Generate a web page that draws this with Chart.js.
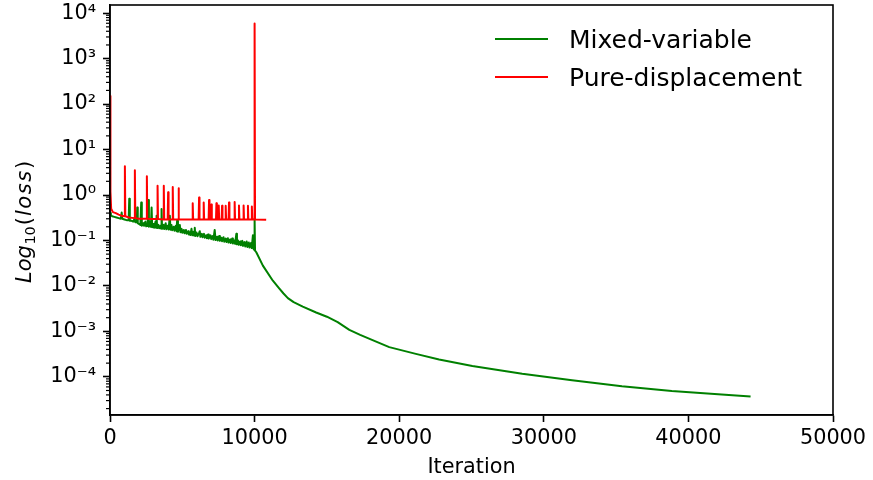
<!DOCTYPE html>
<html><head><meta charset="utf-8">
<script src="https://cdn.jsdelivr.net/npm/chart.js@4"></script>
<style>html,body{margin:0;padding:0;background:#fff}canvas{display:block}</style>
</head><body>
<canvas id="c" width="873" height="480"></canvas>
<script>
const seriesNames = ['Mixed-variable', 'Pure-displacement'];
const seriesColors = ['#008000', '#ff0000'];

const mixedIter = [0,60,150,300,450,600,750,807,850,1000,1150,1290,1331,1370,1500,1600,1700,1750,1850,1883,1920,2000,2100,2159,2200,2300,2350,2450,2500,2600,2641,2690,2780,2830,2876,2920,3000,3050,3150,3190,3221,3260,3350,3400,3500,3530,3566,3600,3700,3750,3850,3900,3980,4050,4138,4180,4250,4300,4400,4450,4550,4600,4641,4700,4780,4828,4870,4950,5000,5100,5150,5250,5300,5400,5450,5520,5560,5635,5700,5780,5820,5862,5900,5980,6050,6150,6207,6250,6350,6400,6500,6550,6650,6700,6780,6830,6950,7000,7100,7150,7241,7300,7400,7450,7550,7600,7700,7750,7850,7900,8000,8050,8150,8200,8300,8350,8450,8500,8600,8650,8738,8780,8850,8900,9000,9050,9150,9200,9300,9350,9450,9500,9600,9650,9750,9800,9883,9920,9980,10000,10030,10117,10573,11263,11700,12000,12300,12700,13331,14256,15000,15745,16552,17300,18159,19311,21152,22759,25057,28506,31954,35402,38851,42300,44300];
const mixedLoss = [0.40,0.36,0.34,0.33,0.32,0.31,0.30,0.41,0.30,0.29,0.28,0.28,0.83,0.27,0.27,0.26,0.30,0.25,0.25,0.53,0.24,0.23,0.22,0.68,0.21,0.24,0.21,0.26,0.205,0.21,0.78,0.20,0.25,0.20,0.53,0.195,0.23,0.19,0.26,0.19,0.35,0.188,0.22,0.185,0.21,0.183,0.49,0.18,0.22,0.178,0.24,0.176,0.21,0.174,0.35,0.172,0.22,0.168,0.20,0.164,0.21,0.16,0.27,0.156,0.19,0.22,0.152,0.18,0.148,0.17,0.144,0.17,0.14,0.16,0.135,0.15,0.132,0.18,0.13,0.155,0.128,0.19,0.126,0.15,0.124,0.145,0.16,0.12,0.14,0.118,0.14,0.115,0.13,0.112,0.135,0.11,0.13,0.107,0.125,0.104,0.17,0.102,0.12,0.10,0.125,0.098,0.115,0.096,0.118,0.094,0.11,0.092,0.112,0.09,0.105,0.088,0.11,0.086,0.10,0.084,0.14,0.082,0.10,0.08,0.095,0.078,0.098,0.076,0.092,0.074,0.095,0.072,0.09,0.07,0.088,0.068,0.13,0.066,0.062,0.30,0.06,0.055,0.028,0.013,0.0088,0.0068,0.0054,0.0044,0.0035,0.0026,0.0021,0.0016,0.00108,0.00084,0.00064,0.00045,0.00032,0.00024,0.000173,0.000117,0.000084,0.000062,0.000049,0.000041,0.000037];

const pureIter = [0,30,80,200,400,600,800,1000,1030,1060,1300,1690,1720,1750,2000,2520,2550,2580,3000,3260,3290,3320,3690,3720,3750,3990,4020,4050,4310,4340,4370,4710,4740,4770,5690,5720,5750,6130,6160,6190,6450,6480,6510,6820,6850,6880,6980,7010,7040,7330,7360,7390,7490,7520,7550,7720,7750,7780,7970,8000,8030,8200,8230,8260,8590,8620,8650,8890,8920,8950,9210,9240,9270,9510,9540,9570,9780,9810,9840,9970,10000,10030,10800];
const pureLoss = [150,1.2,0.5,0.42,0.40,0.37,0.35,0.34,4.3,0.34,0.32,0.31,3.5,0.31,0.30,0.30,2.6,0.30,0.295,0.295,1.6,0.295,0.29,1.6,0.29,0.29,1.15,0.29,0.29,1.5,0.29,0.29,1.4,0.29,0.29,0.66,0.29,0.29,0.88,0.29,0.29,0.68,0.29,0.29,0.78,0.29,0.29,0.62,0.29,0.29,0.66,0.29,0.29,0.59,0.29,0.29,0.58,0.29,0.29,0.58,0.29,0.29,0.68,0.29,0.29,0.70,0.29,0.29,0.59,0.29,0.29,0.59,0.29,0.29,0.58,0.29,0.29,0.56,0.29,0.29,5900,0.29,0.285];

const xTicks = [0, 10000, 20000, 30000, 40000, 50000];
const xTickLabels = ['0', '10000', '20000', '30000', '40000', '50000'];
const yTicks = [1e-4, 1e-3, 1e-2, 1e-1, 1e0, 1e1, 1e2, 1e3, 1e4];
const yTickLabels = ['10\u207B\u2074', '10\u207B\u00B3', '10\u207B\u00B2', '10\u207B\u00B9', '10\u2070', '10\u00B9', '10\u00B2', '10\u00B3', '10\u2074'];
const xMin = 0, xMax = 50000;
const yMin = Math.pow(10, -4.84), yMax = Math.pow(10, 4.18);

const FONT = '"DejaVu Sans", sans-serif';

const framePlugin = {
  id: 'frame',
  afterDraw(chart) {
    const ctx = chart.ctx, a = chart.chartArea, ys = chart.scales.y;
    ctx.save();
    ctx.strokeStyle = '#000'; ctx.lineWidth = 1.2;
    for (let e = -6; e <= 5; e++) {
      for (let m = 2; m <= 9; m++) {
        const v = m * Math.pow(10, e);
        if (v <= yMin || v >= yMax) continue;
        const p = ys.getPixelForValue(v);
        ctx.beginPath(); ctx.moveTo(a.left - 4, p); ctx.lineTo(a.left, p); ctx.stroke();
      }
    }
    ctx.lineWidth = 1.6;
    ctx.strokeRect(a.left, a.top, a.right - a.left, a.bottom - a.top);
    chart.data.datasets.forEach((ds, i) => {
      const y = 39 + i * 38;
      ctx.strokeStyle = ds.borderColor; ctx.lineWidth = 2;
      ctx.beginPath(); ctx.moveTo(495, y); ctx.lineTo(548, y); ctx.stroke();
      ctx.fillStyle = '#000'; ctx.font = '25px ' + FONT;
      ctx.textBaseline = 'alphabetic'; ctx.textAlign = 'left';
      ctx.fillText(ds.label, 569, y + 9.3);
    });
    ctx.translate(31, 283); ctx.rotate(-Math.PI / 2);
    ctx.fillStyle = '#000'; ctx.textBaseline = 'alphabetic'; ctx.textAlign = 'left';
    let x = 0;
    ctx.font = 'italic 21px ' + FONT;
    ctx.fillText('Log', x, 0); x += ctx.measureText('Log').width + 0.5;
    ctx.font = '14.5px ' + FONT;
    ctx.fillText('10', x, 3.5); x += ctx.measureText('10').width + 1;
    ctx.font = '21px ' + FONT;
    ctx.fillText('(', x, 0); x += ctx.measureText('(').width + 1;
    ctx.font = 'italic 21px ' + FONT;
    try { ctx.letterSpacing = '1.5px'; } catch (e) {}
    ctx.fillText('loss', x, 0); x += ctx.measureText('loss').width + 0.5;
    try { ctx.letterSpacing = '0px'; } catch (e) {}
    ctx.font = '21px ' + FONT;
    ctx.fillText(')', x, 0);
    ctx.restore();
  }
};

new Chart(document.getElementById('c'), {
  type: 'line',
  data: {
    datasets: [
      { label: seriesNames[0], data: mixedIter.map((v, i) => ({ x: v, y: mixedLoss[i] })),
        borderColor: seriesColors[0], backgroundColor: seriesColors[0], borderWidth: 2,
        pointRadius: 0, tension: 0, fill: false, order: 1, borderJoinStyle: 'round' },
      { label: seriesNames[1], data: pureIter.map((v, i) => ({ x: v, y: pureLoss[i] })),
        borderColor: seriesColors[1], backgroundColor: seriesColors[1], borderWidth: 2,
        pointRadius: 0, tension: 0, fill: false, order: 0, borderJoinStyle: 'round' }
    ]
  },
  options: {
    responsive: false, animation: false, devicePixelRatio: 1,
    layout: { padding: { top: 5, right: 40, left: 0, bottom: 0 } },
    plugins: { legend: { display: false }, tooltip: { enabled: false } },
    scales: {
      x: {
        type: 'linear', min: xMin, max: xMax,
        afterBuildTicks: (s) => { s.ticks = xTicks.map(v => ({ value: v })); },
        afterFit: (s) => { s.height = 65; s.paddingLeft = 0; s.paddingRight = 0; },
        ticks: { callback: (v) => xTickLabels[xTicks.indexOf(v)], color: '#000',
          font: { family: FONT, size: 20.8 }, padding: 4, maxRotation: 0, autoSkip: false },
        grid: { drawOnChartArea: false, drawTicks: true, tickLength: 7, tickWidth: 1.6, color: '#000' },
        border: { display: true, color: '#000', width: 1.6 },
        title: { display: true, text: 'Iteration', color: '#000',
          font: { family: FONT, size: 20.8, lineHeight: 1.2 }, padding: { top: 0, bottom: 0 } }
      },
      y: {
        type: 'logarithmic', min: yMin, max: yMax,
        afterBuildTicks: (s) => { s.ticks = yTicks.map(v => ({ value: v })); },
        afterFit: (s) => { s.width = 110; s.paddingTop = 0; s.paddingBottom = 0; },
        ticks: { callback: (v) => { const i = yTicks.findIndex(t => Math.abs(t - v) / t < 1e-6); return i >= 0 ? yTickLabels[i] : ''; },
          color: '#000', font: { family: FONT, size: 20.8 }, padding: 7, autoSkip: false },
        grid: { drawOnChartArea: false, drawTicks: true, tickLength: 7, tickWidth: 1.6, color: '#000' },
        border: { display: true, color: '#000', width: 1.6 }
      }
    }
  },
  plugins: [framePlugin]
});
</script>
</body></html>
